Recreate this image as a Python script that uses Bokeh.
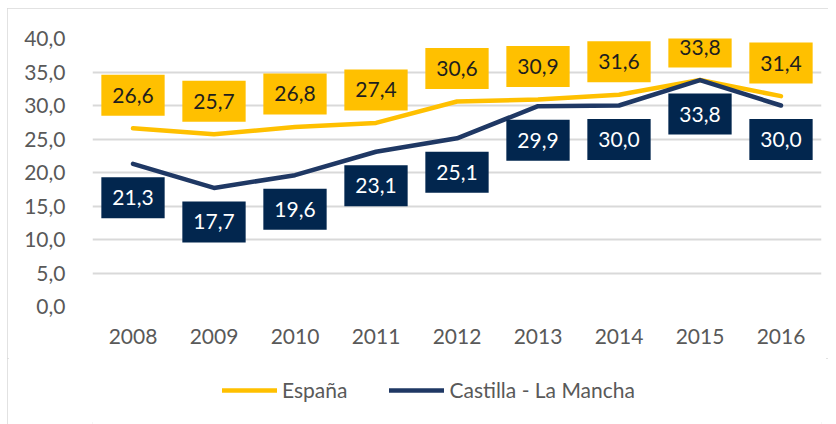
from bokeh.plotting import figure
from bokeh.layouts import column
from bokeh.models import (ColumnDataSource, FactorRange, Range1d, Legend, LegendItem,
                          CustomJSTickFormatter, FixedTicker)
from bokeh.core.properties import value
from bokeh.embed import file_html
from bokeh.resources import INLINE

years = ["2008", "2009", "2010", "2011", "2012", "2013", "2014", "2015", "2016"]
espana = [26.6, 25.7, 26.8, 27.4, 30.6, 30.9, 31.6, 33.8, 31.4]
castilla = [21.3, 17.7, 19.6, 23.1, 25.1, 29.9, 30.0, 33.8, 30.0]
y_ticks = [0, 5, 10, 15, 20, 25, 30, 35, 40]
series_names = ["España", "Castilla - La Mancha"]

GOLD = "#FFC000"
NAVY_LINE = "#1F3864"
NAVY_BOX = "#02264E"
FONT = "Lato"
FS = "21px"


def fmt(v):
    return f"{v:.1f}".replace(".", ",")


src = ColumnDataSource(dict(
    year=years, esp=espana, clm=castilla,
    esp_lbl=[fmt(v) for v in espana], clm_lbl=[fmt(v) for v in castilla],
))

p = figure(x_range=FactorRange(factors=years), y_range=Range1d(0, 40),
           width=821, height=350, output_backend="svg", toolbar_location=None,
           min_border_left=85, min_border_right=7, min_border_top=30, min_border_bottom=52)
p.outline_line_color = None
p.background_fill_color = "white"
p.border_fill_color = "white"

line_kw = dict(line_width=4.5, line_cap="round", line_join="round")
p.line("year", "esp", source=src, line_color=GOLD, **line_kw)
p.line("year", "clm", source=src, line_color=NAVY_LINE, **line_kw)

p.text(x="year", y="esp", text="esp_lbl", source=src, y_offset=-33,
       text_align="center", text_baseline="middle", text_font=value(FONT),
       text_font_size=FS, text_color="#1E1E1E",
       background_fill_color=GOLD, padding=(11, 13))
p.text(x="year", y="clm", text="clm_lbl", source=src, y_offset=34,
       text_align="center", text_baseline="middle", text_font=value(FONT),
       text_font_size=FS, text_color="white",
       background_fill_color=NAVY_BOX, padding=(11, 13))

p.xgrid.grid_line_color = None
p.ygrid.grid_line_color = "#D9D9D9"
p.ygrid.grid_line_width = 2

p.yaxis.ticker = FixedTicker(ticks=y_ticks)
p.yaxis.formatter = CustomJSTickFormatter(code="return tick.toFixed(1).replace('.', ',');")
for ax in (p.xaxis, p.yaxis):
    ax.axis_line_color = None
    ax.major_tick_line_color = None
    ax.minor_tick_line_color = None
    ax.major_label_text_font = FONT
    ax.major_label_text_font_size = FS
    ax.major_label_text_color = "#595959"
p.yaxis.major_label_standoff = 21
p.xaxis.major_label_standoff = 16

# Legend strip below the chart (legend proxies lie outside this strip's visible range)
q = figure(x_range=FactorRange(factors=years), y_range=Range1d(100, 101),
           width=821, height=66, output_backend="svg", toolbar_location=None,
           min_border=0)
q.axis.visible = False
q.grid.visible = False
q.outline_line_color = None
q.border_fill_color = "white"
l1 = q.line("year", "esp", source=src, line_color=GOLD, **line_kw)
l2 = q.line("year", "clm", source=src, line_color=NAVY_LINE, **line_kw)

legend = Legend(items=[LegendItem(label=series_names[0], renderers=[l1]),
                       LegendItem(label=series_names[1], renderers=[l2])],
                orientation="horizontal", location=(130, 22),
                glyph_width=55, glyph_height=20, label_standoff=5, spacing=42,
                label_text_font=FONT, label_text_font_size=FS,
                label_text_color="#595959", border_line_color=None,
                background_fill_alpha=0, padding=0, margin=0)
q.add_layout(legend)

layout = column(p, q, spacing=0,
                styles={"margin-left": "7px", "margin-top": "8px",
                        "outline": "2px solid #D9D9D9", "outline-offset": "-2px"})

open("out.html", "w").write(file_html(layout, INLINE))
